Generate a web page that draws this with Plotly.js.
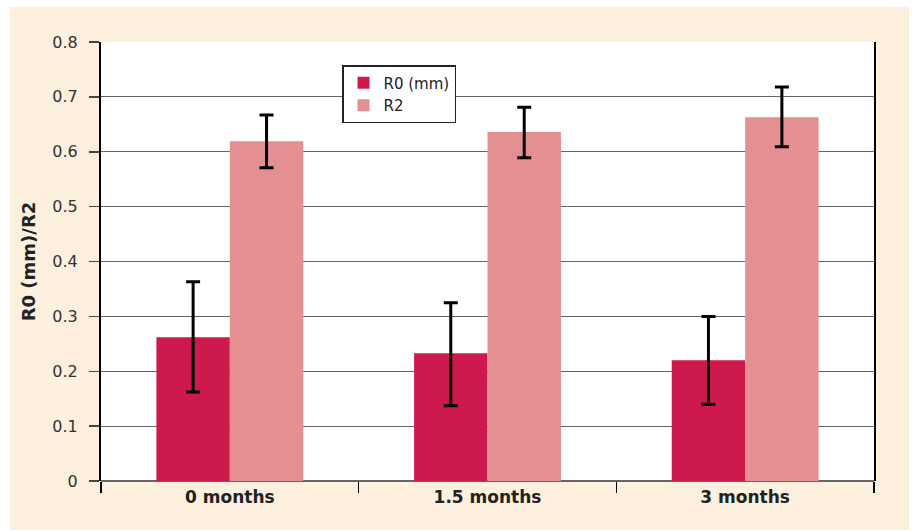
<!DOCTYPE html>
<html>
<head>
<meta charset="utf-8">
<script src="https://cdn.plot.ly/plotly-3.0.1.min.js"></script>
<style>html,body{margin:0;padding:0;background:#fff;}#chart{width:912px;height:531px;}</style>
</head>
<body>
<div id="chart"></div>
<script>
var categories = ["0 months", "1.5 months", "3 months"];
var r0Values = [0.262, 0.233, 0.220];
var r0ErrPlus = [0.101, 0.092, 0.080];
var r0ErrMinus = [0.100, 0.096, 0.080];
var r2Values = [0.619, 0.636, 0.663];
var r2ErrPlus = [0.048, 0.045, 0.055];
var r2ErrMinus = [0.048, 0.047, 0.054];
var yTickValues = [0, 0.1, 0.2, 0.3, 0.4, 0.5, 0.6, 0.7, 0.8];
var yTickLabels = ["0", "0.1", "0.2", "0.3", "0.4", "0.5", "0.6", "0.7", "0.8"];

var FONT = "DejaVu Sans, Verdana, sans-serif";

var traces = [
  {
    type: "bar", name: "R0 (mm)", x: categories, y: r0Values,
    marker: {color: "#CE194C"},
    error_y: {type: "data", array: r0ErrPlus, arrayminus: r0ErrMinus, color: "#000", thickness: 3, width: 7}
  },
  {
    type: "bar", name: "R2", x: categories, y: r2Values,
    marker: {color: "#E48F92"},
    error_y: {type: "data", array: r2ErrPlus, arrayminus: r2ErrMinus, color: "#000", thickness: 3, width: 7}
  }
];

var layout = {
  width: 912, height: 531,
  margin: {l: 101, r: 38, t: 42, b: 50, pad: 0},
  paper_bgcolor: "#ffffff",
  plot_bgcolor: "rgba(0,0,0,0)",
  barmode: "group", bargap: 0.43, bargroupgap: 0,
  showlegend: true,
  legend: {
    x: 0.3118, y: 0.9476, xanchor: "left", yanchor: "top",
    bgcolor: "#ffffff", bordercolor: "#222", borderwidth: 1.5,
    font: {family: FONT, size: 15, color: "#222"},
    traceorder: "normal"
  },
  xaxis: {
    type: "category",
    ticks: "outside", tickson: "boundaries", ticklen: 11, tickwidth: 1.5, tickcolor: "#000",
    showgrid: false, showline: false, zeroline: false,
    tickfont: {family: FONT, size: 17, color: "#222", weight: "bold"},
    ticklabelstandoff: 4
  },
  yaxis: {
    range: [0, 0.8], tickvals: yTickValues, ticktext: yTickLabels,
    ticks: "outside", ticklen: 10, tickwidth: 1.5, tickcolor: "#444",
    showline: true, linecolor: "#000", linewidth: 2, mirror: true,
    showgrid: true, gridcolor: "#666", gridwidth: 1,
    zeroline: true, zerolinecolor: "#666", zerolinewidth: 1.5,
    tickfont: {family: FONT, size: 16, color: "#333"},
    ticklabelstandoff: 8,
    title: {text: "R0 (mm)/R2", font: {family: FONT, size: 18, color: "#222", weight: "bold"}, standoff: 12}
  },
  shapes: [
    {type: "rect", xref: "paper", yref: "paper", x0: -0.1177, x1: 1.0453, y0: -0.1116, y1: 1.0797,
     fillcolor: "#FDF0DE", line: {width: 0}, layer: "below"},
    {type: "rect", xref: "paper", yref: "paper", x0: 0, x1: 1, y0: 0, y1: 1,
     fillcolor: "#ffffff", line: {width: 0}, layer: "below"}
  ]
};

Plotly.newPlot("chart", traces, layout, {displayModeBar: false, staticPlot: true});
</script>
</body>
</html>
